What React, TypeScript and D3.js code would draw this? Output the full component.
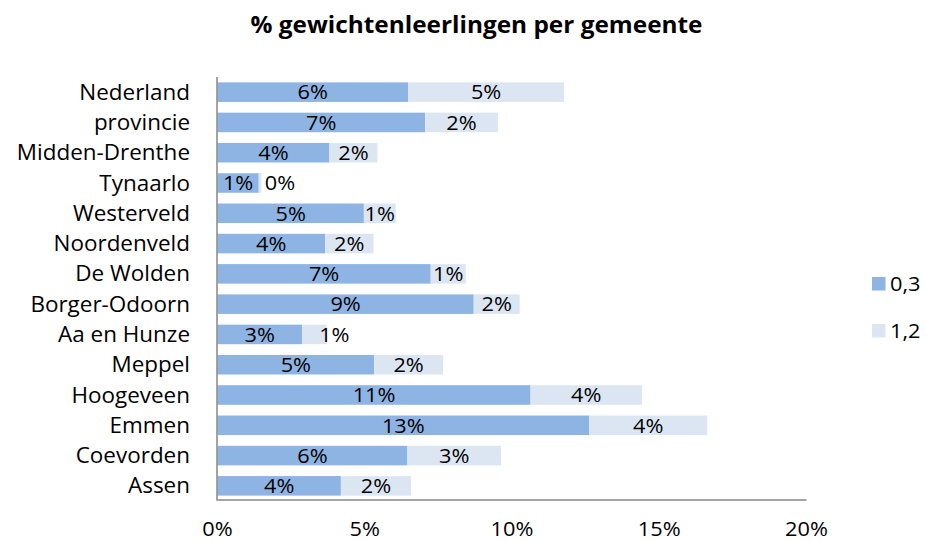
import React from 'react';
import * as d3 from 'd3';

const categories = ['Nederland', 'provincie', 'Midden-Drenthe', 'Tynaarlo', 'Westerveld', 'Noordenveld', 'De Wolden', 'Borger-Odoorn', 'Aa en Hunze', 'Meppel', 'Hoogeveen', 'Emmen', 'Coevorden', 'Assen'];
const series03 = [0.0647, 0.0705, 0.0380, 0.0140, 0.0497, 0.0365, 0.0724, 0.0870, 0.0287, 0.0532, 0.1063, 0.1262, 0.0645, 0.0419];
const series12 = [0.0530, 0.0247, 0.0163, 0.0009, 0.0108, 0.0165, 0.0119, 0.0156, 0.0084, 0.0234, 0.0378, 0.0401, 0.0318, 0.0238];
const seriesNames = ['0,3', '1,2'];
const xTicks = [0, 0.05, 0.1, 0.15, 0.2];
const title = '% gewichtenleerlingen per gemeente';

const COLORS = ['#8EB4E3', '#DCE6F2'];
const FONT = '"Open Sans", sans-serif';
const FS = 20.5;
const SX = 1.06;

function T({ x, y, anchor = 'start', size = FS, weight = 400, children, dy }: any) {
  return (
    <text
      transform={`translate(${x},${y}) scale(${SX},1)`}
      textAnchor={anchor}
      fontFamily={FONT}
      fontSize={size}
      fontWeight={weight}
      fill="#000"
      dy={dy}
    >
      {children}
    </text>
  );
}

export default function App() {
  const W = 926, H = 541;
  const x = d3.scaleLinear().domain([0, 0.2]).range([217.5, 806.5]);
  const y = d3.scaleBand<string>().domain(categories).range([77, 501]).paddingInner(0.355).paddingOuter(0.1775);
  const fmt = (v: number) => Math.round(v * 100) + '%';
  const stackData = categories.map((c, i) => ({ c, a: series03[i], b: series12[i] }));
  const stack = d3.stack<any>().keys(['a', 'b'])(stackData as any);

  return (
    <svg width={W} height={H} style={{ display: 'block', position: 'absolute', left: 0, top: 0, background: '#fff' }}>
      <rect x={0} y={0} width={W} height={H} fill="#fff" />
      <T x={476.5} y={33} anchor="middle" size={23} weight={700}>{title}</T>

      {stack.map((layer, li) => (
        <g key={li}>
          {layer.map((d: any, i: number) => {
            const x0 = x(d[0]);
            const x1 = x(d[1]);
            const yy = y(categories[i])!;
            return (
              <rect key={i} x={x0} y={yy} width={Math.max(0, x1 - x0)} height={y.bandwidth()} fill={COLORS[li]} />
            );
          })}
        </g>
      ))}

      {stack.map((layer, li) => (
        <g key={'l' + li}>
          {layer.map((d: any, i: number) => {
            const x0 = x(d[0]);
            const x1 = x(d[1]);
            const w = x1 - x0;
            let cx = (x0 + x1) / 2;
            if (w < 26) cx += 20;
            const cy = y(categories[i])! + y.bandwidth() / 2;
            return (
              <T key={i} x={cx} y={cy + 7.3} anchor="middle">{fmt(d[1] - d[0])}</T>
            );
          })}
        </g>
      ))}

      {categories.map((c) => (
        <T key={c} x={190} y={y(c)! + y.bandwidth() / 2 + 7.5} anchor="end" size={21.2}>{c}</T>
      ))}

      <line x1={x(0)} x2={x(0.2)} y1={500} y2={500} stroke="#868686" strokeWidth={1.5} />
      <line x1={217} x2={217} y1={77} y2={500.75} stroke="#868686" strokeWidth={1.5} />

      {xTicks.map((t) => (
        <T key={t} x={x(t)} y={535.5} anchor="middle">{fmt(t)}</T>
      ))}

      {seriesNames.map((n, i) => (
        <g key={n}>
          <rect x={872} y={277 + i * 47} width={13.5} height={13.5} fill={COLORS[i]} />
          <T x={890} y={290.5 + i * 47}>{n}</T>
        </g>
      ))}
    </svg>
  );
}
